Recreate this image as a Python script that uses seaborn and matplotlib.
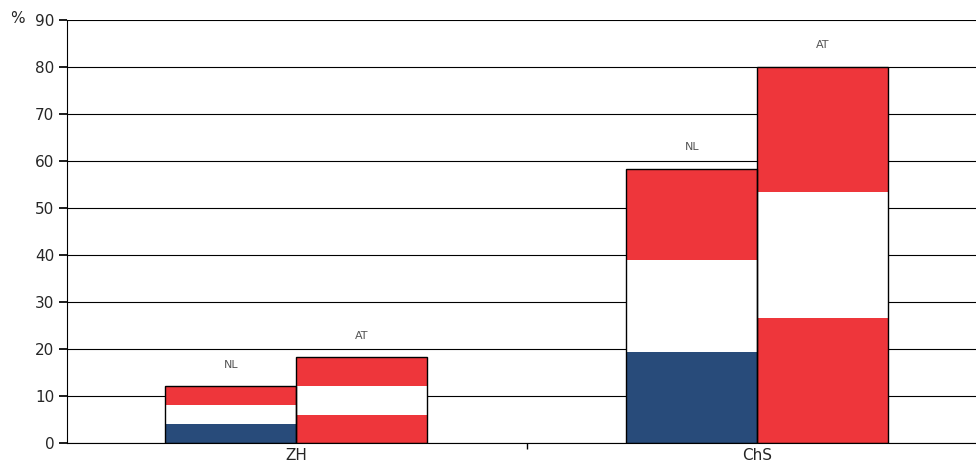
import numpy as np
import matplotlib.pyplot as plt
import seaborn as sns

categories = ['ZH', 'ChS']
countries = ['NL', 'AT']
totals = {'NL': [12.1, 58.4], 'AT': [18.3, 80.0]}
stripe_colors = {'NL': ['#284b7a', '#ffffff', '#ee363b'],
                 'AT': ['#ee363b', '#ffffff', '#ee363b']}

sns.set_theme(style='white')
plt.rcParams['font.family'] = ['DejaVu Sans']

fig, ax = plt.subplots(figsize=(9.76, 4.73), dpi=100)
fig.subplots_adjust(left=0.069, right=1.0, top=0.958, bottom=0.063)

ax.set_axisbelow(True)
ax.yaxis.grid(True, color='black', linewidth=0.8)

width = 0.284
x = np.arange(len(categories))
for j, c in enumerate(countries):
    pos = x + (j - 0.5) * width
    for i, tot in enumerate(totals[c]):
        third = tot / 3
        for k, col in enumerate(stripe_colors[c]):
            ax.bar(pos[i], third, width=width, bottom=k * third, color=col,
                   edgecolor='none', linewidth=0, zorder=2)
        ax.bar(pos[i], tot, width=width, fill=False, edgecolor='black',
               linewidth=1, zorder=3)
        ax.text(pos[i], tot + 3.5, c, ha='center', va='bottom', fontsize=8, color='#555555')

ax.set_xlim(-0.497, 1.475)
ax.set_ylim(0, 90)
ax.set_yticks(range(0, 91, 10))
ax.set_xticks(x)
ax.set_xticklabels(categories, fontsize=11)
ax.set_xticks([0.5], minor=True)
ax.tick_params(axis='x', which='both', length=4, direction='out', bottom=True, color='black')
ax.tick_params(axis='x', which='major', length=0)
ax.tick_params(axis='y', length=6, direction='out', left=True, labelsize=11, color='black')
for s in ['top', 'right']:
    ax.spines[s].set_visible(False)
for s in ['left', 'bottom']:
    ax.spines[s].set_color('black')
    ax.spines[s].set_linewidth(0.8)
fig.text(0.01, 0.96, '%', fontsize=11, ha='left', va='center')

fig.savefig('out.png', dpi=100)
